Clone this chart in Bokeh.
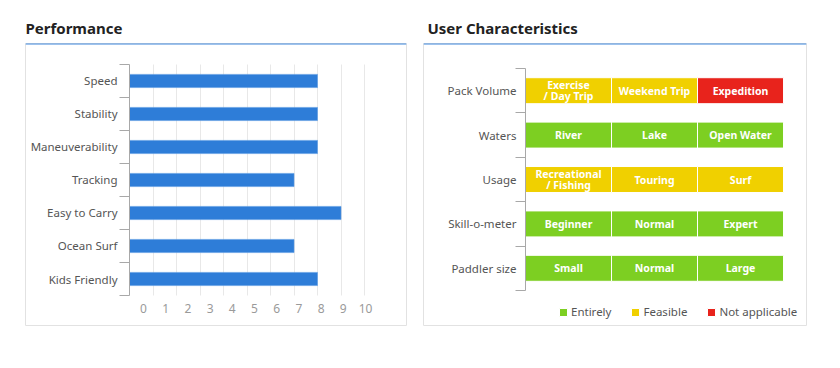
from bokeh.plotting import figure
from bokeh.models import (LinearAxis, FixedTicker, Grid, Range1d, Span, Legend, LegendItem)
from bokeh.layouts import row
from bokeh.core.properties import value
from bokeh.embed import file_html
from bokeh.resources import INLINE

# ---------------- data ----------------
perf_categories = ["Speed", "Stability", "Maneuverability", "Tracking",
                   "Easy to Carry", "Ocean Surf", "Kids Friendly"]
perf_scores = [8, 8, 8, 7, 9, 7, 8]
perf_ticks = list(range(0, 11))

uc_rows = ["Pack Volume", "Waters", "Usage", "Skill-o-meter", "Paddler size"]
uc_labels = [
    ["Exercise\n/ Day Trip", "Weekend Trip", "Expedition"],
    ["River", "Lake", "Open Water"],
    ["Recreational\n/ Fishing", "Touring", "Surf"],
    ["Beginner", "Normal", "Expert"],
    ["Small", "Normal", "Large"],
]
uc_status = [
    ["Feasible", "Feasible", "Not applicable"],
    ["Entirely", "Entirely", "Entirely"],
    ["Feasible", "Feasible", "Feasible"],
    ["Entirely", "Entirely", "Entirely"],
    ["Entirely", "Entirely", "Entirely"],
]
status_names = ["Entirely", "Feasible", "Not applicable"]
status_colors = {"Entirely": "#7dcf22", "Feasible": "#f0d000", "Not applicable": "#e8231c"}

FONT = "Noto Sans"
BLUE_LINE = "#3d86dc"
BOX = "#e2e2e2"

# ---------------- left: Performance ----------------
n = len(perf_categories)
perf_y = [n - 1 - i for i in range(n)]

p1 = figure(width=415, height=352, output_backend="svg", toolbar_location=None,
            x_axis_type=None, y_axis_type=None,
            x_range=Range1d(-4.426, 11.787), y_range=Range1d(-1.409, 7.136),
            min_border_left=25, min_border_right=9, min_border_top=43, min_border_bottom=27,
            title="Performance")
p1.extra_x_ranges = {"lbl": Range1d(-5.315, 11.847)}
p1.outline_line_color = BOX
p1.title.text_font = FONT
p1.title.text_font_size = "15px"
p1.title.text_font_style = "bold"
p1.title.text_color = "#222222"
p1.title.standoff = 11

grid1 = Grid(dimension=0, ticker=FixedTicker(ticks=perf_ticks[1:]),
             grid_line_color="#e8e8e8", cross_bounds=(-0.5, n - 0.5))
p1.add_layout(grid1)

p1.hbar(y=perf_y, left=0, right=perf_scores, height=0.4,
        fill_color="#2e7dd8", line_color="#5b9be3", line_width=0.6)

yax1 = LinearAxis(fixed_location=0, bounds=(-0.5, n - 0.5),
                  ticker=FixedTicker(ticks=perf_y, minor_ticks=[v - 0.5 for v in range(n + 1)]),
                  major_label_overrides={y: c for y, c in zip(perf_y, perf_categories)},
                  axis_line_color="#a8a8a8", major_tick_line_color=None,
                  major_tick_out=0, major_tick_in=0,
                  minor_tick_line_color="#a8a8a8", minor_tick_out=10, minor_tick_in=0,
                  major_label_standoff=2, major_label_text_font=FONT,
                  major_label_text_font_size="11.5px", major_label_text_color="#555555")
p1.add_layout(yax1, "left")

xax1 = LinearAxis(x_range_name="lbl", fixed_location=-0.5,
                  ticker=FixedTicker(ticks=perf_ticks),
                  axis_line_color=None, major_tick_line_color=None, minor_tick_line_color=None,
                  major_tick_out=0, major_tick_in=0,
                  major_label_standoff=8, major_label_text_font=FONT,
                  major_label_text_font_size="12px", major_label_text_color="#9a9a9a")
p1.add_layout(xax1, "below")

p1.add_layout(Span(location=7.136, dimension="width", line_color=BLUE_LINE, line_width=2))

# ---------------- right: User Characteristics ----------------
m = len(uc_rows)
xs, ys, texts, fills, stats = [], [], [], [], []
for i, rname in enumerate(uc_rows):
    for j in range(3):
        xs.append(j)
        ys.append(m - 1 - i)
        texts.append(uc_labels[i][j])
        stats.append(uc_status[i][j])
        fills.append(status_colors[uc_status[i][j]])

p2 = figure(width=417, height=352, output_backend="svg", toolbar_location=None,
            x_axis_type=None, y_axis_type=None,
            x_range=Range1d(-1.686, 2.767), y_range=Range1d(-1.288, 5.063),
            min_border_left=8, min_border_right=26, min_border_top=43, min_border_bottom=27,
            title="User Characteristics")
p2.outline_line_color = BOX
p2.title.text_font = FONT
p2.title.text_font_size = "15px"
p2.title.text_font_style = "bold"
p2.title.text_color = "#222222"
p2.title.standoff = 11
p2.title.offset = 4

cells = p2.rect(x=xs, y=ys, width=1, height=0.585, fill_color=fills,
                line_color="white", line_width=1)
p2.text(x=xs, y=ys, text=texts, text_align="center", text_baseline="middle",
        text_color="white", text_font=value(FONT), text_font_size="10.5px",
        text_font_style="bold", text_line_height=0.8)

uc_y = [m - 1 - i for i in range(m)]
yax2 = LinearAxis(fixed_location=-0.5, bounds=(-0.5, m - 0.5),
                  ticker=FixedTicker(ticks=uc_y, minor_ticks=[v - 0.5 for v in range(m + 1)]),
                  major_label_overrides={y: c for y, c in zip(uc_y, uc_rows)},
                  axis_line_color="#a8a8a8", major_tick_line_color=None,
                  major_tick_out=0, major_tick_in=0,
                  minor_tick_line_color="#a8a8a8", minor_tick_out=10, minor_tick_in=0,
                  major_label_standoff=-1, major_label_text_font=FONT,
                  major_label_text_font_size="11.5px", major_label_text_color="#555555")
p2.add_layout(yax2, "left")

items = [LegendItem(label=s, renderers=[cells], index=stats.index(s)) for s in status_names]
legend = Legend(items=items, orientation="horizontal", location=(135, 6),
                glyph_width=10, glyph_height=10, label_standoff=3, spacing=19,
                padding=0, margin=0, border_line_color=None, background_fill_alpha=0,
                label_text_font=FONT, label_text_font_size="11.5px", label_text_color="#555555")
p2.add_layout(legend)

p2.add_layout(Span(location=5.063, dimension="width", line_color=BLUE_LINE, line_width=2))

layout = row(p1, p2)
open("out.html", "w").write(file_html(layout, INLINE))
